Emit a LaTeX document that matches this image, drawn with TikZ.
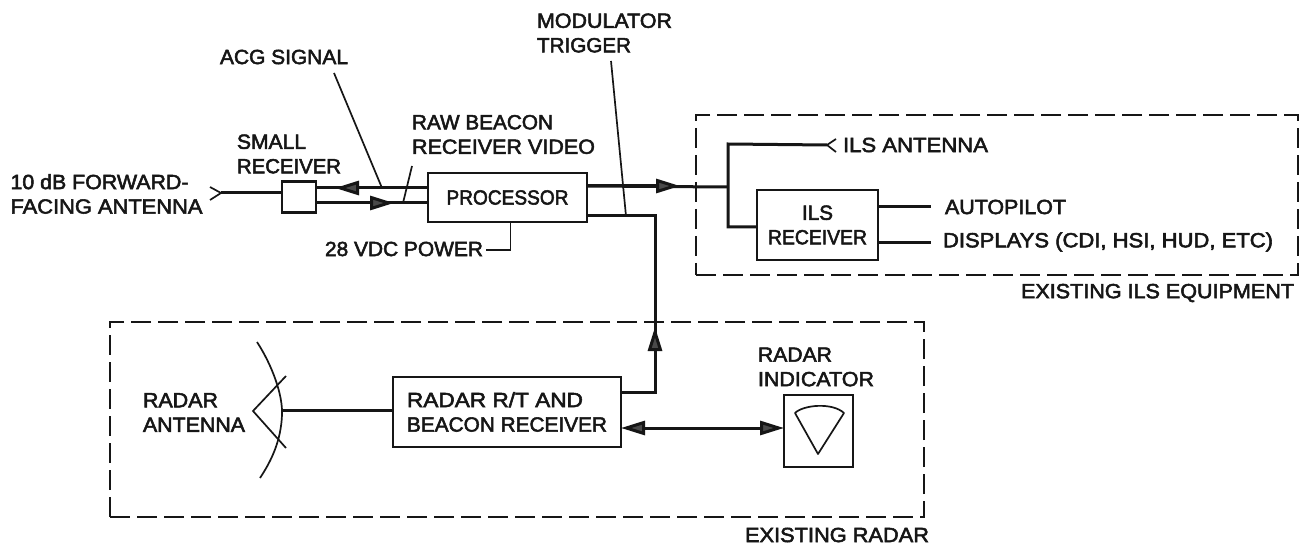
\documentclass[tikz,border=0pt]{standalone}
\usepackage{fontspec}
\usepackage{graphicx}
\setmainfont[FakeBold=2.5]{Liberation Sans}
\usetikzlibrary{arrows.meta,calc}
\definecolor{ink}{HTML}{161616}
\definecolor{headgrey}{HTML}{4A4A4A}
\newcommand{\fw}[2]{\resizebox{#1pt}{\height}{#2}}
\tikzset{
  lbl/.style={inner sep=0pt,outer sep=0pt,text=ink,align=left,anchor=west,font=\fontsize{20.5}{24.5}\selectfont},
  blockbox/.style={draw=ink,line width=2.2pt,fill=white,inner sep=0pt,outer sep=0pt,text=ink,font=\fontsize{20.5}{24.5}\selectfont},
  sig/.style={draw=ink,line width=3pt},
  thinline/.style={draw=ink,line width=1.7pt},
  dashbox/.style={draw=ink,line width=2pt,dash pattern=on 20pt off 7pt},
  headed/.style={draw=ink,line width=3pt,-{Triangle[length=24pt,width=14pt,fill=headgrey]}},
  headedtwo/.style={draw=ink,line width=3pt,{Triangle[length=24pt,width=14pt,fill=headgrey]}-{Triangle[length=24pt,width=14pt,fill=headgrey]}}
}
\begin{document}
\begin{tikzpicture}[x=1pt,y=-1pt]
\useasboundingbox (0,0) rectangle (1301,545);
\fill[white] (0,0) rectangle (1301,545);
% dashed enclosures
\node[dashbox,minimum width=602pt,minimum height=160pt,inner sep=0pt] (ilsframe) at (997,195) {};
\node[dashbox,minimum width=814pt,minimum height=195pt,inner sep=0pt] (radarframe) at (517,419.5) {};
% boxes
\node[blockbox,minimum width=34pt,minimum height=31pt] (small) at (299,197) {};
\node[blockbox,minimum width=159pt,minimum height=49pt] (proc) at (507.5,197.5) {\fw{122}{PROCESSOR}};
\node[blockbox,minimum width=121pt,minimum height=70pt,align=center] (ilsrx) at (817.5,225) {\fw{31}{ILS}\\\fw{99}{RECEIVER}};
\node[blockbox,minimum width=228pt,minimum height=70pt,align=left] (rt) at (507,412) {\fw{176}{RADAR R/T AND}\\\fw{200}{BEACON RECEIVER}};
\node[blockbox,minimum width=69pt,minimum height=72pt] (ind) at (818.5,431) {};
% labels
\node[lbl] (lforward) at (10.5,194) {\fw{178}{10 dB FORWARD-}\\\fw{192}{FACING ANTENNA}};
\node[lbl] (lsmall) at (237,154) {\fw{69}{SMALL}\\\fw{104}{RECEIVER}};
\node[lbl] (lacg) at (220,57) {\fw{128}{ACG SIGNAL}};
\node[lbl] (lraw) at (412,134.5) {\fw{141}{RAW BEACON}\\\fw{183}{RECEIVER VIDEO}};
\node[lbl] (lmod) at (537,33) {\fw{135}{MODULATOR}\\\fw{94}{TRIGGER}};
\node[lbl] (lvdc) at (325,249) {\fw{158}{28 VDC POWER}};
\node[lbl] (lilsant) at (843,145) {\fw{145}{ILS ANTENNA}};
\node[lbl] (lauto) at (945,207) {\fw{121}{AUTOPILOT}};
\node[lbl] (ldisp) at (943,242) {\fw{330}{DISPLAYS (CDI, HSI, HUD, ETC)}};
\node[lbl] (lilseq) at (1021,293) {\fw{273}{EXISTING ILS EQUIPMENT}};
\node[lbl] (lradind) at (758,367) {\fw{74}{RADAR}\\\fw{116}{INDICATOR}};
\node[lbl] (lradant) at (143,412.5) {\fw{75}{RADAR}\\\fw{102}{ANTENNA}};
\node[lbl] (lexrad) at (745,535) {\fw{184}{EXISTING RADAR}};
% free-end coordinates
\coordinate (fwdtip) at (221,193);
\coordinate (fwdup) at (210,187);
\coordinate (fwddn) at (210,200);
\coordinate (acgtop) at (334,73);
\coordinate (acgbot) at (382,188);
\coordinate (rawtop) at (412,166);
\coordinate (rawbot) at (403,203);
\coordinate (modtop) at (611,61);
\coordinate (modbot) at (626,216);
\coordinate (agctip) at (335,188);
\coordinate (rawtip) at (394,203);
\coordinate (busarrow) at (680,186);
\coordinate (junction) at (728,187);
\coordinate (antcorner) at (728,144);
\coordinate (anttip) at (827,145);
\coordinate (antup) at (836,139);
\coordinate (antdn) at (836,152);
\coordinate (autoend) at (931,207);
\coordinate (dispend) at (931,243);
\coordinate (trigcorner) at (655,216);
\coordinate (trigup) at (655,392);
\coordinate (trigtip) at (655,327);
\coordinate (vdccorner) at (510.5,250);
\coordinate (vdcend) at (486,250);
\coordinate (dishtip) at (253,411);
\coordinate (dishup) at (286,376);
\coordinate (dishdn) at (286,448);
\coordinate (arca) at (257,342);
\coordinate (arcb) at (282,410);
\coordinate (arcc) at (260,478);
% small receiver / antenna
\draw[sig] (fwdtip) -- (small.west |- fwdtip);
\draw[thinline] (fwdup) -- (fwdtip) -- (fwddn);
% receiver-processor lines
\draw[sig] ([yshift=9pt]small.east) -- ([yshift=9.5pt]proc.west);
\draw[sig] ([yshift=-6pt]small.east) -- ([yshift=-5.5pt]proc.west);
\draw[headed] ([yshift=9.5pt]proc.west) -- (agctip);
\draw[headed] ([yshift=-6pt]small.east) -- (rawtip);
% leaders
\draw[thinline] (acgtop) -- (acgbot);
\draw[thinline] (rawtop) -- (rawbot);
\draw[thinline] (modtop) -- (modbot);
% processor outputs
\draw[sig] ([yshift=11.5pt]proc.east) -- (junction);
\draw[headed] ([yshift=11.5pt]proc.east) -- (busarrow);
\draw[sig,line join=miter] ([yshift=-18.5pt]proc.east) -- (trigcorner) -- (trigup) -- (rt.east |- trigup);
\draw[headed] (trigup) -- (trigtip);
% power
\draw[thinline] (proc.south -| vdccorner) -- (vdccorner) -- (vdcend);
% ILS
\draw[sig,line join=miter] (anttip) -- (antcorner) -- (junction) -- (728,227) -- (ilsrx.west |- 0,227);
\draw[thinline] (antup) -- (anttip) -- (antdn);
\draw[sig] (ilsrx.east |- autoend) -- (autoend);
\draw[sig] (ilsrx.east |- dispend) -- (dispend);
% radar
\draw[sig] (rt.west |- arcb) -- (arcb);
\draw[thinline] (dishup) -- (dishtip) -- (dishdn);
\draw[thinline] (arca) .. controls (272,365) and (283,395) .. (282,415) .. controls (281,440) and (272,460) .. (arcc);
\draw[headedtwo] (rt.east |- 0,428) -- (ind.west |- 0,428);
% PPI sector
\coordinate (secTip) at (818,454);
\coordinate (secL) at (795,413);
\coordinate (secR) at (844,413);
\draw[thinline,line join=round] (secTip) -- (secL) .. controls (803,405) and (832,402) .. (secR) -- cycle;
\end{tikzpicture}
\end{document}
